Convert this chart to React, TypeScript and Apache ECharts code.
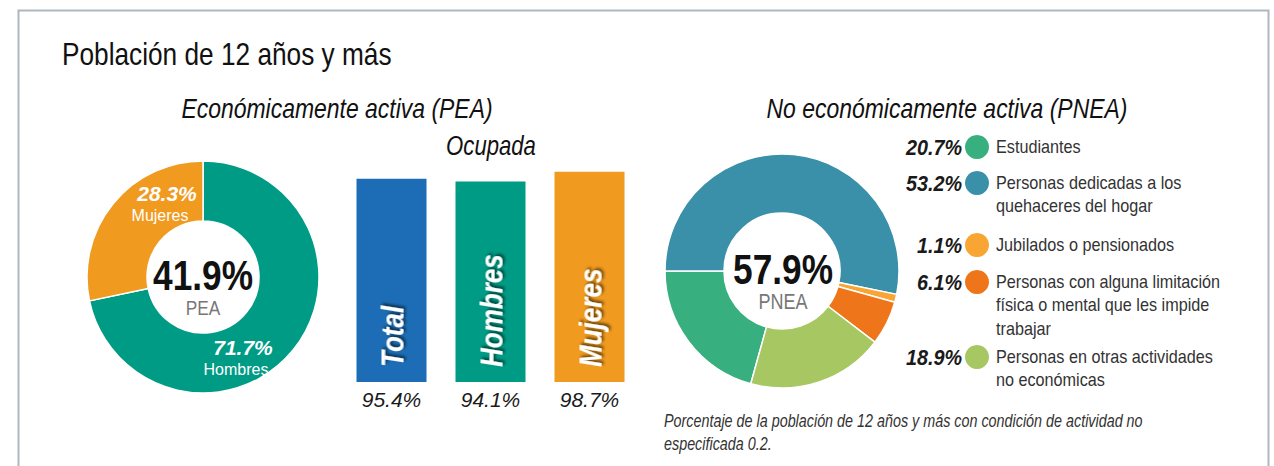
import React, { useEffect, useRef } from "react";
import * as echarts from "echarts";

// ---------- data ----------
const titleText = "Población de 12 años y más";
const peaTitle = "Económicamente activa (PEA)";
const pneaTitle = "No económicamente activa (PNEA)";
const occTitle = "Ocupada";

const peaTotal = 41.9;
const peaTotalLabel = "PEA";
const peaNames = ["Hombres", "Mujeres"];
const peaValues = [71.7, 28.3];

const occCategories = ["Total", "Hombres", "Mujeres"];
const occValues = [95.4, 94.1, 98.7];

const pneaTotal = 57.9;
const pneaTotalLabel = "PNEA";
const pneaNames = [
  "Estudiantes",
  "Personas dedicadas a los\nquehaceres del hogar",
  "Jubilados o pensionados",
  "Personas con alguna limitación\nfísica o mental que les impide\ntrabajar",
  "Personas en otras actividades\nno económicas",
];
const pneaValues = [20.7, 53.2, 1.1, 6.1, 18.9];

const footnote =
  "Porcentaje de la población de 12 años y más con condición de actividad no\nespecificada 0.2.";

// ---------- styles / layout ----------
const FONT = "'Liberation Sans', Arial, sans-serif";
const NARROW = 0.82;
const peaColors = ["#009B85", "#F09A1F"];
const occColors = ["#1C6DB5", "#009B85", "#F09A1F"];
const pneaColors = ["#38AF7E", "#3A8FA9", "#F8A534", "#EE7519", "#A6C762"];
const peaLabelPos = [
  [236, 357],
  [160, 203],
];
const legendRowY = [147, 183, 245, 282, 357];

const fmt = (v: number) => v.toFixed(1) + "%";

function txt(x: number, y: number, text: string, font: string, fill: string, extra: any = {}, scaleX = NARROW) {
  return {
    type: "text",
    x,
    y,
    scaleX,
    silent: true,
    style: { text, font, fill, align: "left", verticalAlign: "middle", ...extra },
  };
}

export default function App() {
  const ref = useRef<HTMLDivElement>(null);
  useEffect(() => {
    document.body.style.margin = "0";
    if (!ref.current) return;
    const chart = echarts.init(ref.current, undefined, { renderer: "svg" });

    const graphic: any[] = [
      {
        type: "rect",
        shape: { x: 18.5, y: 10.5, width: 1250, height: 520 },
        style: { fill: "none", stroke: "#aeb7c0", lineWidth: 2 },
        silent: true,
      },
      txt(62, 54.5, titleText, `32px ${FONT}`, "#111"),
      txt(337, 108, peaTitle, `italic 28px ${FONT}`, "#111", { align: "center" }),
      txt(947, 108, pneaTitle, `italic 28px ${FONT}`, "#111", { align: "center" }),
      txt(491, 146, occTitle, `italic 27px ${FONT}`, "#111", { align: "center" }),
      txt(203, 275, fmt(peaTotal), `bold 43px ${FONT}`, "#111", { align: "center" }),
      txt(203, 308, peaTotalLabel, `21px ${FONT}`, "#777", { align: "center" }),
      txt(783, 269, fmt(pneaTotal), `bold 43px ${FONT}`, "#111", { align: "center" }),
      txt(783, 301, pneaTotalLabel, `22px ${FONT}`, "#777", { align: "center" }),
      txt(664, 409.5, footnote, `italic 17.5px ${FONT}`, "#333", { lineHeight: 23, verticalAlign: "top" }),
    ];

    pneaNames.forEach((name, i) => {
      const y = legendRowY[i];
      graphic.push(
        txt(962, y, fmt(pneaValues[i]), `italic bold 22px ${FONT}`, "#1a1a1a", { align: "right" }, 0.9),
        {
          type: "circle",
          shape: { cx: 977, cy: y, r: 12 },
          style: { fill: pneaColors[i] },
          silent: true,
        },
        txt(996, y - 11.75, name, `18px ${FONT}`, "#333", { lineHeight: 23.5, verticalAlign: "top" }, 0.9)
      );
    });

    const option: any = {
      animation: false,
      graphic,
      grid: { left: 342, top: 382 - 213, width: 297, height: 213 },
      xAxis: {
        type: "category",
        data: occCategories,
        axisLine: { show: false },
        axisTick: { show: false },
        axisLabel: {
          margin: 7,
          formatter: (_v: string, i: number) => fmt(occValues[i]),
          fontFamily: FONT,
          fontSize: 21,
          fontStyle: "italic",
          color: "#1a1a1a",
        },
      },
      yAxis: { type: "value", min: 0, max: 100, show: false, splitLine: { show: false } },
      series: [
        {
          type: "bar",
          barWidth: 70,
          data: occValues.map((v, i) => ({ value: v, itemStyle: { color: occColors[i] } })),
          silent: true,
        },
        {
          type: "custom",
          silent: true,
          z: 5,
          data: occValues.map((v, i) => [i, v]),
          renderItem: (params: any, api: any) => {
            const p = api.coord([api.value(0), 0]);
            return {
              type: "text",
              x: p[0] + 1,
              y: p[1] - 15,
              rotation: Math.PI / 2,
              scaleX: 0.84,
              style: {
                text: occCategories[params.dataIndex],
                font: `italic bold 31px ${FONT}`,
                fill: "#fff",
                align: "left",
                verticalAlign: "middle",
                textShadowColor: "rgba(0,0,0,0.6)",
                textShadowBlur: 3,
                textShadowOffsetX: 2,
                textShadowOffsetY: 2,
              },
            };
          },
        },
        {
          type: "pie",
          center: [203, 277],
          radius: [56, 116],
          startAngle: 90,
          clockwise: true,
          silent: true,
          itemStyle: { borderColor: "#fff", borderWidth: 1.5 },
          data: peaNames.map((n, i) => ({ name: n, value: peaValues[i], itemStyle: { color: peaColors[i] } })),
          label: {
            show: true,
            position: "inside",
            formatter: (p: any) => `{v|${fmt(p.value)}}\n{n|${p.name}}`,
            rich: {
              v: { fontFamily: FONT, fontSize: 21, fontWeight: "bold", fontStyle: "italic", color: "#fff", lineHeight: 24, padding: [0, 0, 0, 14] },
              n: { fontFamily: FONT, fontSize: 16, color: "#fff", lineHeight: 20 },
            },
          },
          labelLayout: (p: any) => ({ x: peaLabelPos[p.dataIndex][0], y: peaLabelPos[p.dataIndex][1] }),
          labelLine: { show: false },
        },
        {
          type: "pie",
          center: [782, 271],
          radius: [58, 117],
          startAngle: 180 + pneaValues[0] * 3.6,
          clockwise: true,
          silent: true,
          itemStyle: { borderColor: "#fff", borderWidth: 1.5 },
          data: pneaNames.map((n, i) => ({ name: n, value: pneaValues[i], itemStyle: { color: pneaColors[i] } })),
          label: { show: false },
          labelLine: { show: false },
        },
      ],
    };
    chart.setOption(option);
    return () => chart.dispose();
  }, []);
  return <div ref={ref} style={{ width: 1274, height: 466 }} />;
}
